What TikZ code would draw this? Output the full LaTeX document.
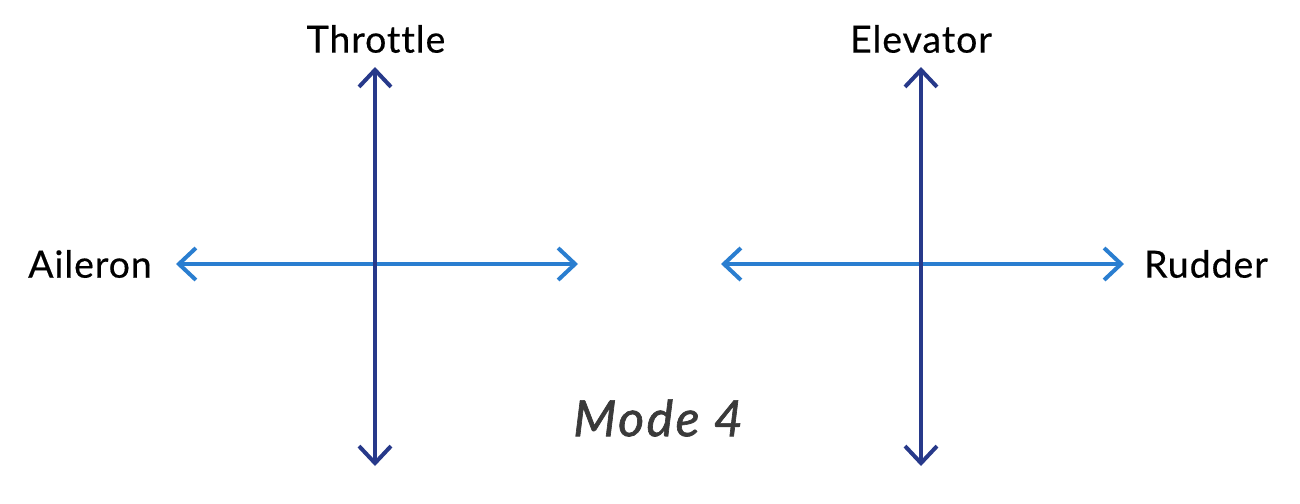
\documentclass[tikz,border=0pt]{standalone}
\usepackage{fontspec}
\setmainfont{Lato}[LetterSpace=2.5,FakeBold=0.4,Ligatures=NoCommon]
\newfontfamily\modefont{Lato}[LetterSpace=5,FakeBold=1.3,Ligatures=NoCommon]
\usetikzlibrary{arrows.meta}
\definecolor{darkax}{HTML}{27398A}
\definecolor{lightax}{HTML}{2A7ED0}
\definecolor{modegray}{HTML}{3A3A3A}
\begin{document}
\begin{tikzpicture}[x=1pt,y=-1pt,
  axis/.style={line width=4pt,{Straight Barb[length=17pt,width=32pt,line width=4pt]}-{Straight Barb[length=17pt,width=32pt,line width=4pt]}},
  vax/.style={axis,draw=darkax},
  hax/.style={axis,draw=lightax},
  lbl/.style={font=\fontsize{37.5}{42}\selectfont,text=black,inner sep=0pt}]
\useasboundingbox (0,0) rectangle (1300,503);
% left stick
\coordinate (lt) at (375,67);
\coordinate (lb) at (375,466);
\coordinate (ll) at (176,264);
\coordinate (lr) at (578,264);
\draw[hax] (ll) -- (lr);
\draw[vax] (lb) -- (lt);
% right stick
\coordinate (rt) at (921,67);
\coordinate (rb) at (921,466);
\coordinate (rl) at (721,264);
\coordinate (rr) at (1124,264);
\draw[hax] (rl) -- (rr);
\draw[vax] (rb) -- (rt);
% labels
\node[lbl] (throttle) at (376,39) {Throttle};
\node[lbl] (aileron) at (90,264) {Aileron};
\node[lbl] (elevator) at (921,39) {Elevator};
\node[lbl] (rudder) at (1206,264) {Rudder};
\node[font=\modefont\fontsize{50}{58}\selectfont\itshape,text=modegray,inner sep=0pt] (mode) at (658,418) {Mode 4};
\end{tikzpicture}
\end{document}
